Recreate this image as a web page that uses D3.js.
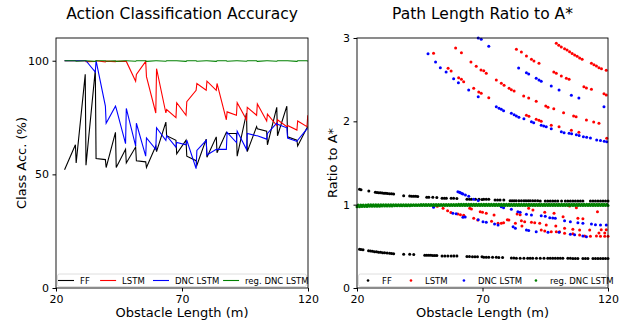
<!DOCTYPE html>
<html>
<head>
<meta charset="utf-8">
<script src="https://cdn.jsdelivr.net/npm/d3@7"></script>
<style>
  body { margin: 0; background: #fff; }
  svg text { font-family: "DejaVu Sans", sans-serif; fill: #000; }
</style>
</head>
<body>
<svg id="chart" width="632" height="322"></svg>
<script>
// ---- left panel: classification accuracy per obstacle length ----
var lengths = [23.4, 27.7, 28.0, 31.6, 31.9, 35.6, 35.9, 39.6, 39.9, 43.6, 43.9, 47.6, 47.9,
  51.6, 51.9, 55.6, 55.9, 59.6, 59.9, 63.6, 63.9, 67.6, 67.9, 71.6, 71.9, 75.6, 75.9,
  79.6, 79.9, 83.6, 83.9, 87.6, 87.9, 91.6, 91.9, 95.6, 95.9, 99.6, 99.9, 103.6, 103.9,
  107.6, 107.9, 111.6, 111.9, 115.6, 115.9, 119.6, 119.9];
var ffAcc = [52, 63, 55, 94, 54, 96, 57, 56.5, 53, 68.5, 53, 61, 55, 62, 56, 55.5, 53, 62.5, 60,
  73, 67, 65, 59, 65, 58, 56, 54, 65.5, 57.5, 66.5, 59.5, 68.5, 68, 68, 58, 77, 60, 71, 70,
  69, 63, 79.5, 67, 80, 66.5, 65, 62.5, 70.5, 71];
var lstmAcc = [100, 100, 100, 100, 99.6, 99.7, 100, 99.5, 99.8, 99.6, 99.8, 99.7, 99.7, 91, 94,
  99.7, 93, 77, 96.5, 77, 78.5, 75, 81.5, 76, 82, 87, 90, 87, 91, 87, 90, 74, 77.5, 76, 81.5,
  74, 79.5, 76, 81, 73.5, 76.5, 71.5, 74, 71, 71.5, 69.5, 73.5, 71, 76];
var dncAcc = [100, 100, 100, 100, 100, 95, 100, 80, 72.5, 80, 79, 63.5, 79, 62.5, 72.5, 58, 66,
  61, 70.5, 65, 67, 62, 64, 63, 65, 52.5, 60.5, 65, 58.5, 61, 61, 61, 68.5, 64, 69, 61, 68,
  67, 67, 65.5, 68, 72.5, 72, 70.5, 66, 64.5, 65, 70, 70];
var regAcc = [100, 100, 99.8, 100, 100, 99.7, 100, 100, 99.8, 100, 99.7, 100, 100, 99.8, 100,
  100, 99.7, 100, 100, 99.8, 100, 100, 100, 99.7, 100, 100, 99.8, 100, 100, 99.7, 100, 100,
  99.8, 100, 100, 99.8, 100, 100, 99.7, 100, 100, 99.8, 100, 100, 100, 99.7, 100, 100, 99.8];

// ---- right panel: path length ratio to A* (points as [length, ratio]) ----
var ffUpper = [[21, 1.184], [21.6, 1.18], [24.7, 1.164], [27.3, 1.148], [28, 1.146], [28.7, 1.144],
  [29.4, 1.142], [30.1, 1.14], [30.8, 1.138], [31.5, 1.136], [32.2, 1.134], [33, 1.132], [33.8, 1.13],
  [34.6, 1.128], [38.6, 1.108], [41, 1.104], [41.8, 1.102], [42.6, 1.1], [43.4, 1.1], [44.2, 1.098],
  [47.8, 1.09], [48.6, 1.09], [50.2, 1.088], [51.8, 1.086], [53.9, 1.078], [54.8, 1.078], [55.6, 1.077],
  [57.5, 1.076], [58.5, 1.076], [59.8, 1.074], [63.8, 1.066], [64.8, 1.066], [65.6, 1.065], [67.2, 1.064],
  [68.6, 1.064], [69.8, 1.063], [70.5, 1.066], [71.5, 1.066], [72.5, 1.064], [75, 1.056], [76, 1.056],
  [77, 1.055], [78.5, 1.055], [81, 1.048], [81.8, 1.048], [82.6, 1.048], [83.4, 1.048], [84.5, 1.048],
  [85.5, 1.047], [86.5, 1.047], [87.3, 1.047], [88.2, 1.046], [89, 1.046], [90, 1.046], [91, 1.046],
  [92, 1.046], [93, 1.045], [95, 1.044], [96, 1.044], [97, 1.044], [98, 1.044], [99, 1.044], [100, 1.044],
  [101.5, 1.044], [103, 1.044], [104, 1.044], [105, 1.044], [106, 1.044], [107, 1.044], [108, 1.043],
  [109, 1.043], [110, 1.043], [113, 1.043], [114, 1.043], [115, 1.043], [116, 1.043], [117, 1.043],
  [118, 1.043], [119, 1.043], [120, 1.043]];
var ffLower = [[21, 0.464], [21.6, 0.462], [22.4, 0.458], [24.6, 0.446], [25.4, 0.444], [26.2, 0.44],
  [27, 0.436], [27.8, 0.434], [28.6, 0.43], [29.4, 0.428], [30.2, 0.424], [31, 0.422], [32, 0.42],
  [33, 0.418], [33.8, 0.414], [34.6, 0.41], [38.6, 0.404], [41, 0.404], [42.6, 0.402], [47, 0.394],
  [47.8, 0.393], [48.6, 0.392], [49.4, 0.392], [50.2, 0.391], [51, 0.391], [51.8, 0.39], [53.9, 0.385],
  [55, 0.385], [56.2, 0.384], [57.5, 0.384], [58.6, 0.383], [59.8, 0.383], [63.8, 0.377], [64.8, 0.377],
  [66, 0.376], [67, 0.376], [68, 0.375], [69.8, 0.375], [70.5, 0.37], [71.5, 0.369], [72.5, 0.369],
  [74, 0.368], [75.5, 0.368], [76.5, 0.367], [78, 0.367], [81.5, 0.36], [82.5, 0.359], [83.5, 0.358],
  [85, 0.358], [86.5, 0.358], [88, 0.358], [89, 0.357], [90, 0.357], [91.5, 0.357], [93, 0.357],
  [94.5, 0.356], [96, 0.356], [97, 0.356], [98, 0.356], [99, 0.356], [100, 0.356], [101, 0.356],
  [102, 0.356], [104, 0.356], [105, 0.356], [106, 0.355], [107, 0.355], [108, 0.355], [110, 0.355],
  [111, 0.355], [112, 0.355], [114, 0.355], [115, 0.355], [116, 0.355], [117, 0.355], [118, 0.354],
  [119, 0.354], [120, 0.354]];
var lstmPts = [
  // upper curves
  [99.4, 2.936], [100.4, 2.912], [101.4, 2.892], [102.7, 2.872], [103.7, 2.855], [104.7, 2.836],
  [105.7, 2.815], [106.7, 2.796], [107.7, 2.78], [108.7, 2.76], [109.7, 2.745], [113.4, 2.696],
  [114.4, 2.68], [115.4, 2.665], [116.4, 2.644], [117.4, 2.63], [119.3, 2.612],
  [59.3, 2.88], [61.6, 2.824], [65.4, 2.712], [67.5, 2.66], [69.4, 2.616], [70.5, 2.608], [71.5, 2.576],
  [75.5, 2.496], [77.5, 2.456], [78.6, 2.432], [80.6, 2.396], [81.5, 2.38], [82.6, 2.364],
  [86.4, 2.304], [88.4, 2.28], [91.4, 2.24], [95.2, 2.184], [96.1, 2.17], [98.4, 2.152], [102.3, 2.104],
  [106.3, 2.064], [107.3, 2.055], [111.4, 2.016], [114.3, 1.992], [116.4, 1.976],
  [83.5, 2.864], [85.5, 2.832], [87.5, 2.784], [89.5, 2.744], [90.5, 2.724], [92.5, 2.696],
  [98.4, 2.592], [99.4, 2.576], [101.4, 2.544], [103.4, 2.516], [104.5, 2.504],
  [110.4, 2.416], [111.4, 2.4], [113.4, 2.384], [118.4, 2.332], [119.3, 2.316],
  [50.5, 2.816], [56.3, 2.636], [57.5, 2.604], [60.5, 2.524], [61.6, 2.504], [62.5, 2.476],
  [66.5, 2.396], [68.5, 2.352], [69.5, 2.336], [72.5, 2.284],
  [87.5, 2.072], [88.5, 2.06], [91.4, 2.024], [92.5, 2.012], [93.4, 2.0], [97.4, 1.952],
  [100.5, 1.936], [105.4, 1.892], [108.4, 1.87], [119.5, 1.796],
  // lower curves
  [50.4, 0.988], [52, 0.98], [54.3, 0.956], [56.1, 0.928], [57.4, 0.905], [60.2, 0.888], [61.2, 0.88],
  [62.5, 0.872], [66.5, 0.836], [68.1, 0.816], [73.6, 0.8], [76.2, 0.778], [77.5, 0.776], [78.4, 0.784],
  [64.9, 0.956], [65.6, 0.948], [69.1, 0.916], [70, 0.91], [71.5, 0.896], [74.6, 0.876], [79.9, 0.82],
  [80.5, 0.815], [83.1, 0.776], [85.7, 0.744], [93.4, 0.696], [94.8, 0.684], [97.4, 0.676], [99.4, 0.676],
  [100.7, 0.676], [102.7, 0.656], [106, 0.652], [108.7, 0.636], [110.7, 0.624], [113, 0.622],
  [115.4, 0.624], [117, 0.622], [118.7, 0.62], [120, 0.62],
  [85.5, 0.808], [86.8, 0.796], [89.5, 0.79], [90.8, 0.784], [92.8, 0.776], [95.4, 0.756], [99.2, 0.744],
  [102.7, 0.716], [106, 0.704], [108.7, 0.696], [112.7, 0.696], [116.4, 0.66], [118.7, 0.66],
  [83.8, 0.888], [85, 0.88], [88.4, 0.956], [90.1, 0.936], [94.8, 0.91], [98.5, 0.896], [102.1, 0.856],
  [104.7, 0.984], [107.4, 0.964], [108, 0.836], [110, 0.83], [115.8, 0.916], [117.3, 0.7], [119.3, 0.7]
];
var dncPts = [
  [48.3, 2.812], [51.3, 2.712], [53.2, 2.644], [55.5, 2.592], [58.5, 2.512], [60.4, 2.464], [64.5, 2.376],
  [68.3, 2.296], [75.5, 2.176], [76.6, 2.156], [77.5, 2.144], [78.4, 2.128], [81.5, 2.096], [82.6, 2.08],
  [83.5, 2.064], [84.5, 2.048], [86.5, 2.032], [89.5, 1.996], [90.4, 1.984], [93.4, 1.952], [94.4, 1.944],
  [95.4, 1.936], [97.4, 1.912], [101.4, 1.876], [102.5, 1.864], [104.5, 1.856], [105.5, 1.85],
  [107.4, 1.84], [108.5, 1.83], [110.2, 1.816], [111.5, 1.81], [113, 1.8], [115.5, 1.776], [117, 1.77],
  [118.5, 1.76], [119.5, 1.756],
  [68.3, 3.0], [69.5, 2.984], [72.5, 2.9], [84.4, 2.64], [87.5, 2.584], [88.4, 2.568], [91.4, 2.516],
  [92.5, 2.496], [93.4, 2.48], [97.4, 2.424], [100.5, 2.376], [105.4, 2.312], [108.4, 2.28], [118.4, 2.176],
  [60.2, 1.156], [60.8, 1.15], [61.2, 1.144], [61.8, 1.135], [62.2, 1.128], [63.2, 1.116], [64.5, 1.1],
  [66.5, 1.064], [68.3, 1.05], [77.5, 0.976], [78.4, 0.964], [81.5, 0.944], [84.1, 0.916], [85, 0.91],
  [87.5, 0.884], [89.5, 0.876], [93.4, 0.868], [95, 0.86], [96.8, 0.844], [98, 0.84], [99, 0.836],
  [102.7, 0.808], [105, 0.796], [108, 0.784], [110, 0.776], [113.4, 0.768], [115, 0.76], [117, 0.756],
  [119.3, 0.756],
  [50.5, 0.968], [58.2, 0.896], [59.5, 0.89], [62.2, 0.848], [63.1, 0.852], [68.3, 0.82], [70.2, 0.796],
  [71.5, 0.79], [74.8, 0.768], [76.2, 0.756], [82.2, 0.736], [83.1, 0.716], [87.5, 0.696], [88.4, 0.69],
  [91.4, 0.676], [96.1, 0.668], [100.5, 0.668], [105, 0.644], [106.7, 0.64], [110, 0.624], [111.4, 0.616]
];
var regLen = [20, 21, 22, 23, 24, 25, 26, 27, 28, 29, 30, 31, 32, 33, 34, 35, 36, 37, 38, 39, 40,
  41, 42, 43, 44, 45, 46, 47, 48, 49, 50, 51, 52, 53, 54, 55, 56, 57, 58, 59, 60, 61, 62, 63, 64,
  65, 66, 67, 68, 69, 70, 71, 72, 73, 74, 75, 76, 77, 78, 79, 80, 81, 82, 83, 84, 85, 86, 87, 88,
  89, 90, 91, 92, 93, 94, 95, 96, 97, 98, 99, 100, 101, 102, 103, 104, 105, 106, 107, 108, 109,
  110, 111, 112, 113, 114, 115, 116, 117, 118, 119, 120];
var regLo = [0.975, 0.976, 0.978, 0.977, 0.979, 0.98, 0.98, 0.981, 0.982, 0.982, 0.983, 0.984, 0.984,
  0.985, 0.985, 0.986, 0.986, 0.987, 0.987, 0.988, 0.988, 0.988, 0.989, 0.989, 0.99, 0.99, 0.99, 0.99,
  0.99, 0.99, 0.99, 0.99, 0.99, 0.99, 0.99, 0.99, 0.99, 0.99, 0.99, 0.99, 0.99, 0.99, 0.99, 0.99,
  0.99, 0.99, 0.99, 0.99, 0.99, 0.99, 0.99, 0.99, 0.99, 0.99, 0.99, 0.99, 0.99, 0.99, 0.99, 0.99,
  0.99, 0.99, 0.99, 0.99, 0.99, 0.99, 0.99, 0.99, 0.99, 0.99, 0.99, 0.99, 0.99, 0.99, 0.99, 0.99,
  0.99, 0.99, 0.99, 0.99, 0.99, 0.99, 0.99, 0.99, 0.99, 0.99, 0.99, 0.99, 0.99, 0.99, 0.99, 0.99,
  0.99, 0.99, 0.99, 0.99, 0.99, 0.99, 0.99, 0.99, 0.99];
var regHi = [0.995, 0.996, 0.997, 0.997, 0.998, 0.998, 0.999, 0.999, 1.0, 1.0, 1.0, 1.0, 1.0, 1.0,
  1.0, 1.0, 1.0, 1.0, 1.0, 1.0, 1.0, 1.0, 1.0, 1.0, 1.0, 1.002, 1.002, 1.002, 1.002, 1.002, 1.002,
  1.002, 1.002, 1.002, 1.002, 1.002, 1.002, 1.002, 1.002, 1.002, 1.004, 1.004, 1.004, 1.004, 1.004,
  1.004, 1.004, 1.004, 1.004, 1.004, 1.004, 1.004, 1.004, 1.004, 1.004, 1.004, 1.004, 1.004, 1.004,
  1.004, 1.004, 1.004, 1.004, 1.004, 1.004, 1.004, 1.004, 1.004, 1.004, 1.004, 1.004, 1.004, 1.004,
  1.004, 1.004, 1.004, 1.004, 1.004, 1.004, 1.004, 1.004, 1.004, 1.004, 1.004, 1.004, 1.004, 1.004,
  1.004, 1.004, 1.004, 1.004, 1.004, 1.004, 1.004, 1.004, 1.004, 1.004, 1.004, 1.004, 1.004, 1.004];

var seriesNames = ["FF", "LSTM", "DNC LSTM", "reg. DNC LSTM"];
var seriesColors = ["#000000", "#ff0000", "#0000ff", "#008000"];
var xTicks = [20, 70, 120];
var accTicks = [0, 50, 100];
var ratioTicks = [0, 1, 2, 3];

var svg = d3.select("#chart");
var plotTop = 38, plotBottom = 288;

function frame(x, y, yTicks, title, yLabel, labelX) {
  var g = svg.append("g");
  var x0 = x.range()[0], x1 = x.range()[1];

  g.append("g")
    .attr("transform", "translate(0," + plotBottom + ")")
    .call(d3.axisBottom(x).tickValues(xTicks).tickSize(3.5).tickPadding(3.5))
    .call(a => a.select(".domain").remove())
    .selectAll("text").attr("font-size", 11);

  g.append("g")
    .attr("transform", "translate(" + x0 + ",0)")
    .call(d3.axisLeft(y).tickValues(yTicks).tickFormat(d3.format("d")).tickSize(3.5).tickPadding(3.5))
    .call(a => a.select(".domain").remove())
    .selectAll("text").attr("font-size", 11);

  g.append("rect")
    .attr("x", x0).attr("y", plotTop)
    .attr("width", x1 - x0).attr("height", plotBottom - plotTop)
    .attr("fill", "none").attr("stroke", "#000").attr("stroke-width", 0.9);

  g.append("text")
    .attr("x", (x0 + x1) / 2).attr("y", 19)
    .attr("text-anchor", "middle").attr("font-size", 15.5)
    .text(title);

  g.append("text")
    .attr("x", (x0 + x1) / 2).attr("y", 317)
    .attr("text-anchor", "middle").attr("font-size", 13)
    .text("Obstacle Length (m)");

  g.append("text")
    .attr("transform", "translate(" + labelX + "," + (plotTop + plotBottom) / 2 + ") rotate(-90)")
    .attr("text-anchor", "middle").attr("font-size", 13)
    .text(yLabel);
}

function legend(x0, x1, kind, offs) {
  var g = svg.append("g");
  g.append("rect")
    .attr("x", x0 + 1.5).attr("y", 274)
    .attr("width", x1 - x0 - 3).attr("height", 12.5)
    .attr("rx", 2)
    .attr("fill", "#fff").attr("fill-opacity", 0.85)
    .attr("stroke", "#d6d6d6").attr("stroke-width", 0.8);
  seriesNames.forEach(function (name, i) {
    var sx = x0 + offs[i] * (x1 - x0);
    if (kind === "line") {
      g.append("line")
        .attr("x1", sx).attr("x2", sx + 16).attr("y1", 280.5).attr("y2", 280.5)
        .attr("stroke", seriesColors[i]).attr("stroke-width", 1.1);
      g.append("text")
        .attr("x", sx + 22).attr("y", 283.5)
        .attr("font-size", 8.5)
        .text(name);
    } else {
      g.append("circle")
        .attr("cx", sx).attr("cy", 280.5).attr("r", 1.3)
        .attr("fill", seriesColors[i]);
      g.append("text")
        .attr("x", sx + 14).attr("y", 283.5)
        .attr("font-size", 8.5)
        .text(name);
    }
  });
}

// left panel
var xL = d3.scaleLinear().domain([20, 120]).range([56, 308]);
var yL = d3.scaleLinear().domain([0, 110]).range([plotBottom, plotTop]);

var accSeries = [ffAcc, lstmAcc, dncAcc, regAcc];
var line = d3.line()
  .x(function (d) { return xL(d[0]); })
  .y(function (d) { return yL(d[1]); });

svg.append("clipPath").attr("id", "clipL")
  .append("rect").attr("x", 56).attr("y", plotTop).attr("width", 252).attr("height", plotBottom - plotTop);

accSeries.forEach(function (vals, i) {
  svg.append("path")
    .datum(lengths.map(function (l, j) { return [l, vals[j]]; }))
    .attr("clip-path", "url(#clipL)")
    .attr("fill", "none")
    .attr("stroke", seriesColors[i])
    .attr("stroke-width", 1.1)
    .attr("stroke-linejoin", "miter")
    .attr("d", line);
});

frame(xL, yL, accTicks, "Action Classification Accuracy", "Class Acc. (%)", 26);
legend(56, 308, "line", [0.008, 0.175, 0.385, 0.663]);

// right panel
var xR = d3.scaleLinear().domain([20, 120]).range([357, 608]);
var yR = d3.scaleLinear().domain([0, 3]).range([plotBottom, plotTop]);

var regPts = [];
regLen.forEach(function (l, j) {
  regPts.push([l, regLo[j]]);
  regPts.push([l + 0.5, regHi[j]]);
});

var ratioSeries = [ffUpper.concat(ffLower), lstmPts, dncPts, regPts];
ratioSeries.forEach(function (pts, i) {
  svg.append("g").selectAll("circle")
    .data(pts.filter(function (d) { return d[0] <= 120; }))
    .enter().append("circle")
    .attr("cx", function (d) { return xR(d[0]); })
    .attr("cy", function (d) { return yR(d[1]); })
    .attr("r", 1.5)
    .attr("fill", seriesColors[i]);
});

frame(xR, yR, ratioTicks, "Path Length Ratio to A*", "Ratio to A*", 337);
legend(357, 608, "dot", [0.044, 0.215, 0.426, 0.713]);
</script>
</body>
</html>
